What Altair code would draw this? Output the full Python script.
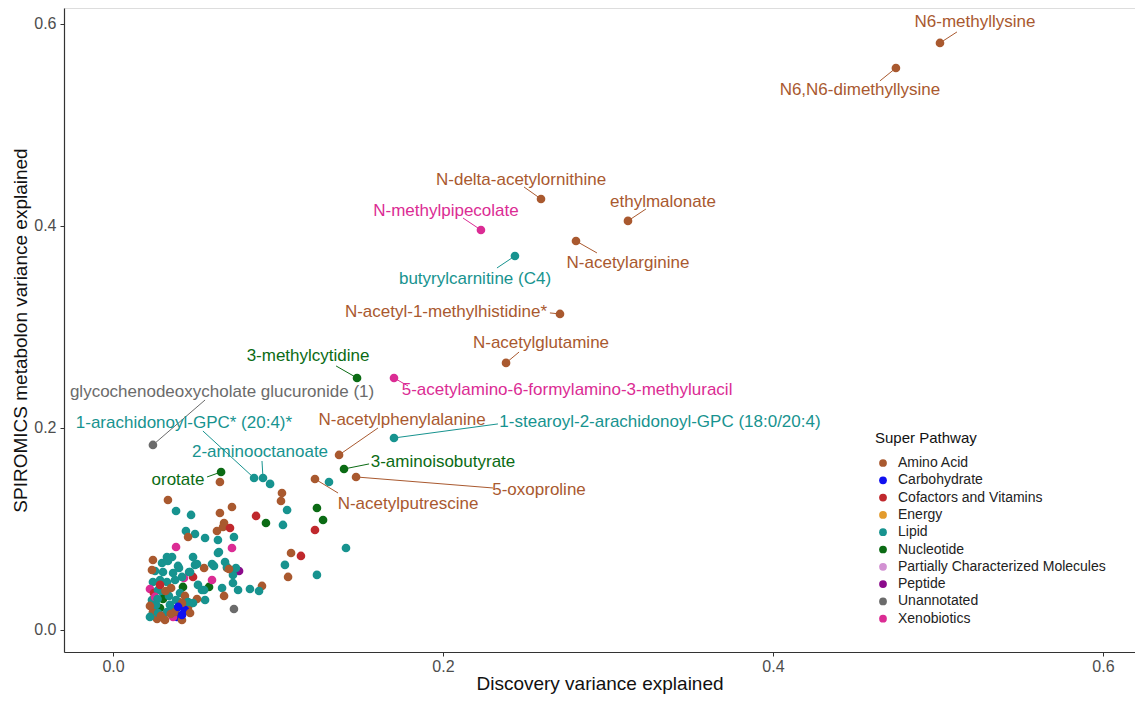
import altair as alt
import pandas as pd

# ---------------- categories / colours ----------------
pathways = ["Amino Acid", "Carbohydrate", "Cofactors and Vitamins", "Energy", "Lipid",
            "Nucleotide", "Partially Characterized Molecules", "Peptide", "Unannotated", "Xenobiotics"]
pathway_colors = ["#A9592F", "#1010F0", "#C0282D", "#E39B2D", "#17938F",
                  "#0B6B14", "#D291D2", "#8B0A8B", "#6B6B6B", "#DB2C94"]
code = {"A": "Amino Acid", "C": "Carbohydrate", "V": "Cofactors and Vitamins", "E": "Energy",
        "L": "Lipid", "N": "Nucleotide", "P": "Partially Characterized Molecules",
        "PE": "Peptide", "U": "Unannotated", "X": "Xenobiotics"}

# ---------------- labelled metabolites ----------------
lab_names = ["N6-methyllysine", "N6,N6-dimethyllysine", "N-delta-acetylornithine", "ethylmalonate",
             "N-methylpipecolate", "N-acetylarginine", "butyrylcarnitine (C4)",
             "N-acetyl-1-methylhistidine*", "N-acetylglutamine", "3-methylcytidine",
             "5-acetylamino-6-formylamino-3-methyluracil", "glycochenodeoxycholate glucuronide (1)",
             "1-arachidonoyl-GPC* (20:4)*", "2-aminooctanoate", "N-acetylphenylalanine",
             "1-stearoyl-2-arachidonoyl-GPC (18:0/20:4)", "orotate", "3-aminoisobutyrate",
             "5-oxoproline", "N-acetylputrescine"]
lab_x = [0.5012, 0.4745, 0.2594, 0.3121, 0.2230, 0.2806, 0.2436, 0.2709, 0.2382, 0.1479,
         0.1703, 0.0242, 0.0855, 0.0909, 0.1370, 0.1703, 0.0655, 0.1400, 0.1473, 0.1224]
lab_y = [0.5812, 0.5564, 0.4267, 0.4050, 0.3960, 0.3851, 0.3703, 0.3129, 0.2644, 0.2495,
         0.2495, 0.1832, 0.1505, 0.1505, 0.1733, 0.1901, 0.1564, 0.1594, 0.1515, 0.1495]
lab_group = ["A", "A", "A", "A", "X", "A", "L", "A", "A", "N",
             "X", "U", "L", "L", "A", "L", "N", "N", "A", "A"]

# label placement (layout, in data units)
text_x = [0.5224, 0.4527, 0.2473, 0.3333, 0.2018, 0.3121, 0.2194, 0.2018, 0.2594, 0.1182,
          0.2752, 0.0661, 0.0430, 0.0891, 0.1752, 0.3315, 0.0394, 0.2000, 0.2582, 0.1788]
text_y = [0.6020, 0.5347, 0.4455, 0.4238, 0.4149, 0.3634, 0.3475, 0.3149, 0.2842, 0.2713,
          0.2376, 0.2356, 0.2050, 0.1762, 0.2079, 0.2059, 0.1485, 0.1663, 0.1386, 0.1248]
seg_x = [0.5115, 0.4648, 0.2491, 0.3230, 0.2121, 0.2933, 0.2327, 0.2648, 0.2461, 0.1352,
         0.1788, 0.0558, 0.0545, 0.0903, 0.1606, 0.2333, 0.0570, 0.1552, 0.2303, 0.1364]
seg_y = [0.5921, 0.5436, 0.4386, 0.4168, 0.4079, 0.3733, 0.3584, 0.3139, 0.2752, 0.2614,
         0.2416, 0.2277, 0.1970, 0.1673, 0.2000, 0.2040, 0.1515, 0.1644, 0.1406, 0.1356]

# ---------------- unlabelled metabolites ----------------
pt_x = [0.0648, 0.0952, 0.1309, 0.0333, 0.1024, 0.1018, 0.0721, 0.0648, 0.0382, 0.0473,
        0.1055, 0.0867, 0.0927, 0.1030, 0.1236, 0.1273, 0.1224, 0.1412, 0.0673, 0.0667,
        0.0709, 0.0630, 0.0442, 0.0497, 0.0455, 0.0558, 0.0636, 0.0733, 0.0382, 0.0358,
        0.0327, 0.0721, 0.0642, 0.1079, 0.1139, 0.1042, 0.1061, 0.1236, 0.0485, 0.0497,
        0.0600, 0.0612, 0.0552, 0.0679, 0.0691, 0.0764, 0.0727, 0.0727, 0.0903, 0.0830,
        0.0885, 0.0758, 0.0661, 0.0582, 0.0552, 0.0515, 0.0485, 0.0600, 0.0430, 0.0461,
        0.0400, 0.0418, 0.0424, 0.0673, 0.0558, 0.0733, 0.0455, 0.0745,
        0.0242, 0.0297, 0.0333, 0.0394, 0.0509, 0.0636, 0.0691, 0.0703, 0.0255, 0.0303,
        0.0364, 0.0467, 0.0242, 0.0285, 0.0327, 0.0376, 0.0539, 0.0224, 0.0248, 0.0273,
        0.0303, 0.0406, 0.0436, 0.0509, 0.0455, 0.0400, 0.0303, 0.0285, 0.0436, 0.0388,
        0.0467, 0.0303, 0.0364, 0.0242, 0.0267, 0.0327, 0.0236, 0.0261, 0.0345, 0.0382,
        0.0339, 0.0224, 0.0315, 0.0418, 0.0364, 0.0273, 0.0352, 0.0285, 0.0418, 0.0255,
        0.0485, 0.0376, 0.0418, 0.0224, 0.0236, 0.0318, 0.0270, 0.0350, 0.0395, 0.0290]
pt_y = [0.1465, 0.1446, 0.1465, 0.1287, 0.1356, 0.1277, 0.1218, 0.1158, 0.1178, 0.1139,
        0.1188, 0.1129, 0.1059, 0.1040, 0.1208, 0.1089, 0.0990, 0.0812, 0.1059, 0.1020,
        0.1010, 0.0980, 0.0980, 0.0950, 0.0921, 0.0911, 0.0891, 0.0921, 0.0822, 0.0723,
        0.0723, 0.0812, 0.0772, 0.0762, 0.0733, 0.0644, 0.0525, 0.0545, 0.0723, 0.0644,
        0.0653, 0.0634, 0.0614, 0.0673, 0.0614, 0.0584, 0.0545, 0.0465, 0.0436, 0.0406,
        0.0386, 0.0396, 0.0416, 0.0426, 0.0396, 0.0446, 0.0525, 0.0495, 0.0515, 0.0574,
        0.0614, 0.0525, 0.0426, 0.0337, 0.0297, 0.0208, 0.0228, 0.0614,
        0.0693, 0.0663, 0.0683, 0.0634, 0.0653, 0.0762, 0.0624, 0.0604, 0.0584, 0.0574,
        0.0564, 0.0574, 0.0475, 0.0495, 0.0475, 0.0495, 0.0396, 0.0406, 0.0366, 0.0396,
        0.0366, 0.0366, 0.0337, 0.0307, 0.0277, 0.0277, 0.0307, 0.0218, 0.0198, 0.0129,
        0.0168, 0.0139, 0.0129, 0.0178, 0.0109, 0.0178, 0.0297, 0.0248, 0.0248, 0.0297,
        0.0337, 0.0238, 0.0099, 0.0099, 0.0208, 0.0168, 0.0416, 0.0446, 0.0267, 0.0327,
        0.0267, 0.0178, 0.0149, 0.0129, 0.0594, 0.0386, 0.0307, 0.0158, 0.0228, 0.0139]
pt_group = ["A", "L", "L", "A", "A", "A", "A", "A", "L", "L",
            "L", "V", "N", "L", "N", "N", "V", "L", "A", "A",
            "V", "A", "L", "L", "A", "L", "L", "L", "X", "L",
            "L", "X", "L", "A", "V", "L", "A", "L", "L", "L",
            "L", "L", "A", "L", "A", "PE", "L", "L", "A", "L",
            "L", "L", "L", "N", "L", "L", "V", "X", "X", "L",
            "L", "L", "N", "A", "L", "U", "A", "L",
            "A", "L", "L", "L", "L", "L", "L", "A", "L", "L",
            "L", "L", "L", "L", "L", "L", "L", "X", "V", "L",
            "L", "L", "A", "A", "L", "A", "N", "N", "C", "C",
            "A", "X", "X", "A", "A", "L", "L", "L", "L", "L",
            "L", "A", "A", "A", "L", "L", "A", "V", "A", "X",
            "L", "A", "C", "L", "A", "A", "L", "A", "C", "A"]

# ---------------- tables ----------------
pts = pd.DataFrame({
    "x": pt_x + lab_x,
    "y": pt_y + lab_y,
    "pathway": [code[g] for g in pt_group + lab_group],
})
labs = pd.DataFrame({
    "name": lab_names, "x": lab_x, "y": lab_y,
    "tx": text_x, "ty": text_y, "sx": seg_x, "sy": seg_y,
    "pathway": [code[g] for g in lab_group],
})

FONT = "Liberation Sans"
xscale = alt.Scale(domain=[-0.0297, 0.6194], nice=False, zero=False)
yscale = alt.Scale(domain=[-0.0218, 0.6158], nice=False, zero=False)
cscale = alt.Scale(domain=pathways, range=pathway_colors)

xaxis = alt.Axis(title="Discovery variance explained", values=[0.0, 0.2, 0.4, 0.6], format=".1f",
                 grid=False, domainColor="#333333", domainWidth=1.2, tickColor="#333333",
                 tickSize=4, labelFontSize=16, labelColor="#4D4D4D", labelFont=FONT,
                 labelPadding=2, titleFont=FONT, titleFontSize=19, titleFontWeight="normal",
                 titleColor="#111111", titlePadding=0)
yaxis = alt.Axis(title="SPIROMICS metabolon variance explained", values=[0.0, 0.2, 0.4, 0.6],
                 format=".1f", grid=False, domainColor="#333333", domainWidth=1.2,
                 tickColor="#333333", tickSize=4, labelFontSize=16, labelColor="#4D4D4D",
                 labelFont=FONT, labelPadding=4, titleFont=FONT, titleFontSize=19,
                 titleFontWeight="normal", titleColor="#111111", titlePadding=3)

color_legend = alt.Legend(
    title="Super Pathway", orient="none", legendX=811, legendY=423,
    titleFont=FONT, titleFontSize=15, titleFontWeight="normal", titleColor="#111111",
    titlePadding=10, labelFont=FONT, labelFontSize=14, labelColor="#222222",
    labelLimit=400, symbolType="circle", symbolSize=60, symbolStrokeWidth=0,
    rowPadding=3.3, labelOffset=8, symbolOffset=1, padding=0)

points = alt.Chart(pts).mark_circle(size=75, opacity=1).encode(
    x=alt.X("x:Q", scale=xscale, axis=xaxis),
    y=alt.Y("y:Q", scale=yscale, axis=yaxis),
    color=alt.Color("pathway:N", scale=cscale, legend=color_legend),
)

segments = alt.Chart(labs).mark_rule(strokeWidth=1).encode(
    x=alt.X("x:Q", scale=xscale), y=alt.Y("y:Q", scale=yscale),
    x2="sx:Q", y2="sy:Q",
    color=alt.Color("pathway:N", scale=cscale),
)

texts = alt.Chart(labs).mark_text(font=FONT, fontSize=17, align="center", baseline="middle").encode(
    x=alt.X("tx:Q", scale=xscale), y=alt.Y("ty:Q", scale=yscale), text="name:N",
    color=alt.Color("pathway:N", scale=cscale),
)

chart = alt.layer(points, segments, texts).properties(
    width=1071, height=644,
    padding={"left": 56, "top": 0, "right": 0, "bottom": 44},
    autosize=alt.AutoSizeParams(type="none"),
).configure_view(stroke=None).configure(background="white")

chart.save("out.html", embed_options={"renderer": "svg", "actions": False})
